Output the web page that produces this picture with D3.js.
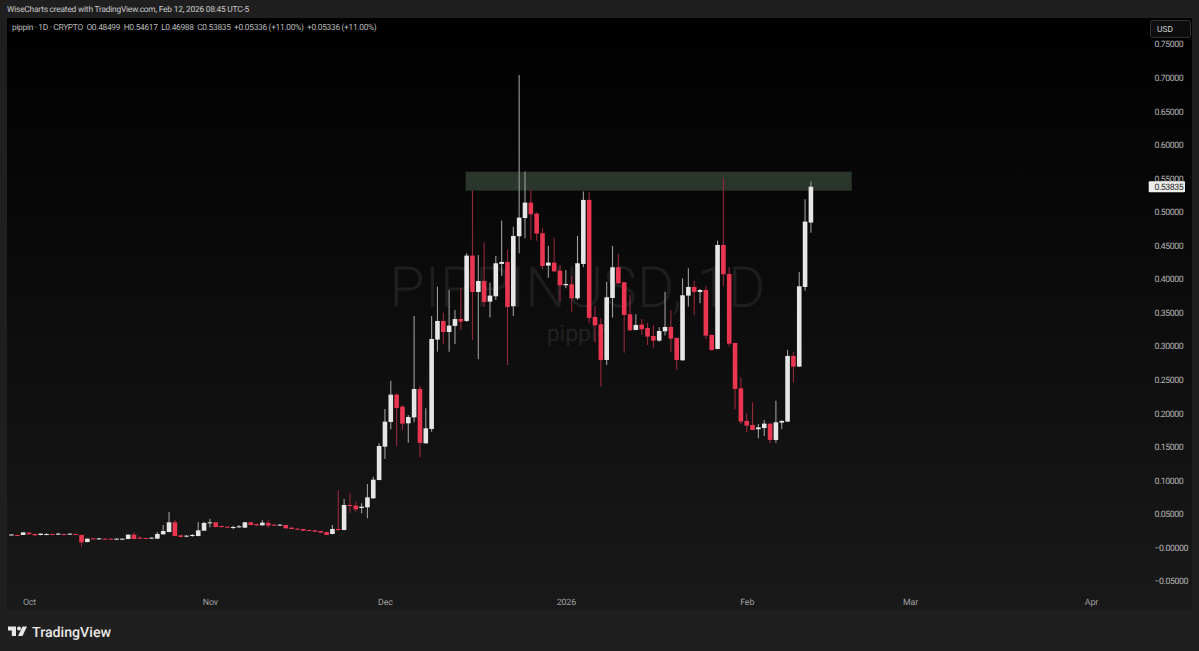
<!DOCTYPE html>
<html>
<head>
<meta charset="utf-8">
<script src="https://cdnjs.cloudflare.com/ajax/libs/d3/7.8.5/d3.min.js"></script>
<style>
  html, body { margin: 0; padding: 0; background: #1f1f1f; overflow: hidden; }
  text { font-family: Roboto, "Open Sans", sans-serif; text-rendering: geometricPrecision; }
</style>
</head>
<body>
<div id="chart"></div>
<script>
// first candle is 2025-09-28, one candle per day
const firstDay = "2025-09-28"

const opens = [
  .0200,.0194,.0194,.0229,.0209,.0194,.0199,.0209,.0204,.0209,.0204,.0209,.0194,.0089,.0144,.0129,.0139,.0139,.0129,.0129,
  .0134,.0199,.0154,.0149,.0144,.0139,.0204,.0238,.0383,.0189,.0169,.0184,.0179,.0258,.0373,.0383,.0328,.0318,.0303,.0313,
  .0303,.0383,.0358,.0338,.0373,.0348,.0338,.0343,.0303,.0288,.0283,.0268,.0263,.0253,.0238,.0209,.0283,.0268,.0641,.0631,
  .0596,.0606,.0740,.1013,.1510,.1878,.2285,.2106,.1858,.1947,.2370,.1560,.1774,.3105,.3383,.3219,.3309,.3413,.3383,.4357,
  .3815,.3979,.3671,.3751,.4233,.4263,.3602,.4645,.4918,.5147,.4983,.4690,.4208,.4253,.4133,.3915,.3930,.3721,.4233,.5187,
  .3443,.3334,.2802,.3726,.4183,.3960,.3483,.3249,.3329,.3279,.3160,.3090,.3229,.3294,.3130,.2797,.3761,.3890,.3815,.3845,
  .3175,.2966,.4516,.4084,.3055,.2380,.1893,.1833,.1769,.1788,.1853,.1610,.1868,.1883,.2862,.2703,.3890,.48499
]
const highs = [
  .0205,.0197,.0236,.0233,.0212,.0217,.0219,.0214,.0229,.0214,.0219,.0214,.0199,.0142,.0147,.0149,.0144,.0144,.0144,.0142,
  .0201,.0233,.0179,.0154,.0157,.0238,.0343,.0537,.0417,.0194,.0189,.0209,.0388,.0392,.0437,.0388,.0333,.0323,.0333,.0343,
  .0388,.0388,.0363,.0412,.0417,.0353,.0353,.0348,.0318,.0293,.0288,.0273,.0268,.0258,.0243,.0343,.0864,.0730,.0825,.0691,
  .0666,.0954,.1063,.1560,.2072,.2494,.2305,.2131,.1982,.3458,.2414,.2082,.3458,.3895,.3507,.3845,.3547,.3870,.4392,.5326,
  .4367,.4551,.3955,.4352,.4879,.4441,.4789,.7050,.5609,.5336,.4998,.4764,.4501,.4625,.4218,.4143,.4054,.4650,.5311,.5301,
  .3607,.3423,.3969,.4501,.4382,.3965,.3771,.3483,.3413,.3358,.3324,.3289,.3820,.3547,.3135,.4019,.4168,.3984,.3860,.3905,
  .3180,.4580,.5510,.4183,.3060,.2544,.2007,.2171,.1848,.1908,.1858,.2196,.1908,.2951,.2916,.4113,.5197,.54617
]
const lows = [
  .0193,.0175,.0192,.0200,.0184,.0190,.0189,.0194,.0194,.0185,.0199,.0194,.0015,.0085,.0124,.0124,.0124,.0124,.0124,.0124,
  .0132,.0129,.0134,.0134,.0139,.0134,.0199,.0233,.0174,.0159,.0159,.0169,.0174,.0253,.0308,.0308,.0303,.0298,.0278,.0303,
  .0298,.0338,.0333,.0333,.0303,.0328,.0333,.0288,.0278,.0268,.0253,.0253,.0238,.0224,.0189,.0204,.0258,.0263,.0527,.0542,
  .0517,.0442,.0735,.1008,.1326,.1769,.1520,.1759,.1570,.1873,.1351,.1555,.1734,.2926,.3040,.2926,.3040,.3249,.3368,.3100,
  .2812,.3597,.3433,.3696,.4054,.2727,.3458,.4392,.4615,.4590,.4580,.4158,.4029,.4113,.3671,.3870,.3522,.3696,.4183,.3348,
  .3060,.2405,.2727,.3433,.3935,.2911,.3234,.3244,.3175,.3025,.2986,.3075,.3165,.2926,.2653,.2792,.3597,.3473,.3647,.3115,
  .2941,.2961,.3905,.3001,.2067,.1848,.1724,.1754,.1634,.1669,.1560,.1570,.1769,.1878,.2469,.2698,.3835,.46988
]
const closes = [
  .0201,.0179,.0233,.0204,.0189,.0214,.0209,.0199,.0214,.0194,.0214,.0199,.0084,.0139,.0129,.0144,.0129,.0129,.0139,.0139,
  .0199,.0134,.0139,.0139,.0154,.0209,.0253,.0383,.0179,.0164,.0184,.0194,.0263,.0373,.0383,.0313,.0313,.0308,.0313,.0323,
  .0383,.0343,.0338,.0378,.0333,.0333,.0348,.0293,.0283,.0273,.0258,.0258,.0243,.0229,.0194,.0283,.0268,.0641,.0626,.0576,
  .0616,.0755,.1018,.1520,.1883,.2285,.2087,.1853,.1952,.2370,.1565,.1784,.3115,.3383,.3219,.3314,.3413,.3373,.4357,.3815,
  .3979,.3666,.3761,.4243,.4263,.3592,.4650,.4923,.5147,.4973,.4685,.4203,.4253,.4123,.3915,.3935,.3721,.4243,.5187,.3428,
  .3319,.2802,.3736,.4183,.3945,.3473,.3244,.3324,.3259,.3150,.3090,.3234,.3294,.3120,.2802,.3766,.3890,.3815,.3845,.3165,
  .2951,.4516,.4079,.3045,.2370,.1883,.1823,.1759,.1798,.1853,.1610,.1873,.1893,.2862,.2703,.3900,.4864,.53835
]

const priceTicks = [-0.05,0,0.05,0.1,0.15,0.2,0.25,0.3,0.35,0.4,0.45,0.5,0.55,0.6,0.65,0.7,0.75]
const priceLabels = ["−0.05000","−0.00000","0.05000","0.10000","0.15000","0.20000","0.25000","0.30000","0.35000","0.40000","0.45000","0.50000","0.55000","0.60000","0.65000","0.70000","0.75000"]
const monthDays = ["2025-10-01","2025-11-01","2025-12-01","2026-01-01","2026-02-01","2026-03-01","2026-04-01"]
const monthLabels = ["Oct","Nov","Dec","2026","Feb","Mar","Apr"]

// resistance zone drawn on the chart
const zoneDays = ["2025-12-15","2026-02-19"]
const zonePrices = [0.5325,0.5608]
const lastPrice = 0.53835

const svgWidth = 1199
const svgHeight = 651
const pane = {left: 7, top: 18, right: 1192, bottom: 610}

const x = d3.scaleUtc()
    .domain([new Date("2025-10-01"), new Date("2026-04-01")])
    .range([29, 1091])
const y = d3.scaleLinear()
    .domain([-0.05, 0.75])
    .range([581.55, 44.7])

const svg = d3.select("#chart")
  .append("svg")
    .attr("width", svgWidth)
    .attr("height", svgHeight)
    .style("display", "block")

const defs = svg.append("defs")
const grad = defs.append("linearGradient")
    .attr("id", "pane-bg")
    .attr("x1", 0).attr("x2", 0).attr("y1", 0).attr("y2", 1)
grad.append("stop").attr("offset", "0%").attr("stop-color", "#000000")
grad.append("stop").attr("offset", "100%").attr("stop-color", "#191919")

svg.append("rect")
    .attr("width", svgWidth)
    .attr("height", svgHeight)
    .attr("fill", "#1f1f1f")

svg.append("rect")
    .attr("x", pane.left)
    .attr("y", pane.top)
    .attr("width", pane.right - pane.left)
    .attr("height", pane.bottom - pane.top)
    .attr("fill", "url(#pane-bg)")

// watermark, behind everything
svg.append("text")
    .attr("x", 577.5).attr("y", 307)
    .attr("text-anchor", "middle")
    .attr("font-size", 57)
    .attr("font-weight", 300)
    .attr("fill", "#1e1e1f")
    .text("PIPPINUSD, 1D")
svg.append("text")
    .attr("x", 578).attr("y", 341)
    .attr("text-anchor", "middle")
    .attr("font-size", 23)
    .attr("fill", "#212122")
    .text("pippin")

// zone
svg.append("rect")
    .attr("x", x(new Date(zoneDays[0])) - 1)
    .attr("y", y(zonePrices[1]))
    .attr("width", x(new Date(zoneDays[1])) - x(new Date(zoneDays[0])) + 1)
    .attr("height", y(zonePrices[0]) - y(zonePrices[1]))
    .attr("fill", "#2a362c")

// candles
const candles = closes.map((c, i) => ({
    day: d3.utcDay.offset(new Date(firstDay), i),
    open: opens[i], high: highs[i], low: lows[i], close: c
}))
const isUp = d => d.close >= d.open

svg.append("g").selectAll("line")
    .data(candles)
    .join("line")
    .attr("x1", d => x(d.day))
    .attr("x2", d => x(d.day))
    .attr("y1", d => y(d.high))
    .attr("y2", d => y(d.low))
    .attr("stroke", d => isUp(d) ? "#9c9c9c" : "#93283c")
    .attr("stroke-width", 1.1)

svg.append("g").selectAll("rect")
    .data(candles)
    .join("rect")
    .attr("x", d => x(d.day) - 2.3)
    .attr("width", 4.6)
    .attr("y", d => y(Math.max(d.open, d.close)))
    .attr("height", d => Math.max(1, Math.abs(y(d.open) - y(d.close))))
    .attr("fill", d => isUp(d) ? "#e6e6e6" : "#ea3650")

// price axis
const yAxis = d3.axisRight(y)
    .tickValues(priceTicks)
    .tickFormat((d, i) => priceLabels[i])
    .tickSize(0)
    .tickPadding(0)
const yG = svg.append("g")
    .attr("transform", "translate(1154.5,-0.6)")
    .call(yAxis)
yG.select(".domain").remove()
yG.selectAll("text")
    .attr("font-size", 8.8)
    .attr("fill", "#b4b4b4")
    .style("letter-spacing", "-0.45px")

// time axis
const xAxis = d3.axisBottom(x)
    .tickValues(monthDays.map(d => new Date(d)))
    .tickFormat((d, i) => monthLabels[i])
    .tickSize(0)
    .tickPadding(0)
const xG = svg.append("g")
    .attr("transform", "translate(0,599)")
    .call(xAxis)
xG.select(".domain").remove()
xG.selectAll("text")
    .attr("font-size", 8.8)
    .attr("fill", "#a0a0a0")
    .style("letter-spacing", "-0.1px")

// last price tag
svg.append("rect")
    .attr("x", 1148.7)
    .attr("y", y(lastPrice) - 5.5)
    .attr("width", 36.3)
    .attr("height", 11)
    .attr("rx", 1)
    .attr("fill", "#ededed")
svg.append("text")
    .attr("x", 1154.5)
    .attr("y", y(lastPrice) + 3)
    .attr("font-size", 8.8)
    .attr("fill", "#2a2a2a")
    .style("letter-spacing", "-0.45px")
    .text(d3.format(".5f")(lastPrice))

// USD button
svg.append("rect")
    .attr("x", 1150.5).attr("y", 20.5)
    .attr("width", 40).attr("height", 17)
    .attr("rx", 2)
    .attr("fill", "#0d0d0d")
    .attr("stroke", "#333333")
svg.append("text")
    .attr("x", 1157).attr("y", 32)
    .attr("font-size", 8.4)
    .attr("fill", "#d0d0d0")
    .text("USD")

// header lines
svg.append("text")
    .attr("x", 7).attr("y", 12)
    .attr("font-size", 8.4)
    .attr("fill", "#c8c8c8")
    .style("letter-spacing", "-0.22px")
    .text("WiseCharts created with TradingView.com, Feb 12, 2026 08:45 UTC-5")
svg.append("text")
    .attr("x", 12).attr("y", 30)
    .attr("font-size", 8.4)
    .attr("fill", "#b8b8b8")
    .style("letter-spacing", "-0.31px")
    .style("white-space", "pre")
    .text("pippin · 1D · CRYPTO  O0.48499  H0.54617  L0.46988  C0.53835  +0.05336 (+11.00%)  +0.05336 (+11.00%)")

// TradingView logo
const logo = svg.append("g")
    .attr("transform", "translate(8,626.5)")
    .attr("fill", "#e8e8e8")
logo.append("path").attr("d", "M0 0H8V9.5H3.8V4H0Z")
logo.append("circle").attr("cx", 11).attr("cy", 2).attr("r", 2)
logo.append("path").attr("d", "M14.5 0H19L14.5 9.5H10Z")
svg.append("text")
    .attr("x", 32).attr("y", 636.5)
    .attr("font-size", 14.2)
    .attr("font-weight", 500)
    .attr("font-family", "Inter, sans-serif")
    .attr("fill", "#e8e8e8")
    .text("TradingView")
</script>
</body>
</html>
